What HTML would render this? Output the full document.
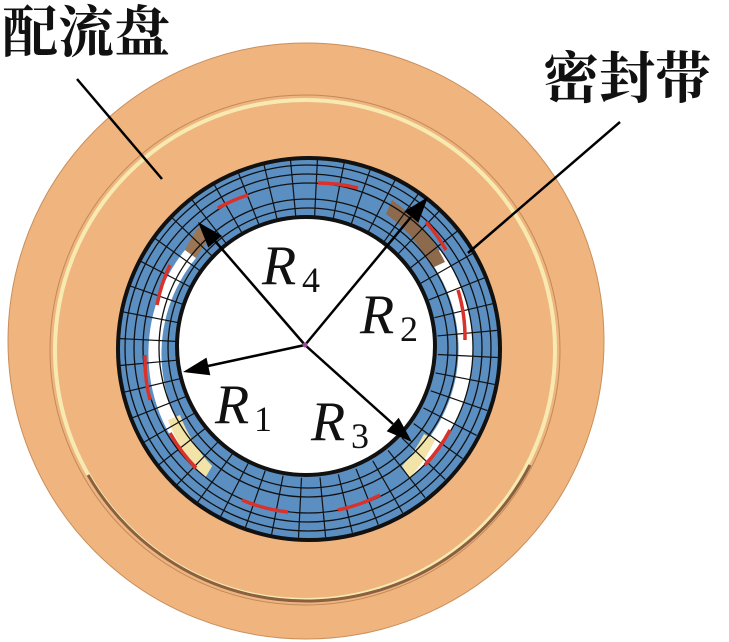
<!DOCTYPE html>
<html><head><meta charset="utf-8"><style>
html,body{margin:0;padding:0;background:#fff;}
svg{display:block;}
.rr{font-family:"Liberation Serif","Times New Roman",serif;font-style:italic;font-size:56px;fill:#111;}
.ss{font-family:"Liberation Serif","Times New Roman",serif;font-size:36px;fill:#111;}
.cj{font-family:"Noto Serif CJK SC","Liberation Serif",serif;font-size:56px;font-weight:bold;fill:#111;}
</style></head><body>
<svg width="729" height="642" viewBox="0 0 729 642" xmlns="http://www.w3.org/2000/svg">
<ellipse cx="306" cy="341" rx="298" ry="298" fill="#f0b47e" stroke="#c98f5c" stroke-width="1"/>
<circle cx="305" cy="350" r="250" fill="none" stroke="#f6eab0" stroke-width="4"/>
<circle cx="305" cy="350" r="255" fill="none" stroke="#c08a5a" stroke-width="1"/>
<path d="M88,475 A252,252 0 0 0 530,465" fill="none" stroke="#8a6040" stroke-width="3"/>
<circle cx="309" cy="349" r="191" fill="#5b8fc2" stroke="#111" stroke-width="4"/>
<g>
<path d="M185,250 A165,165 0 0 0 205,478 L212,466 A150,150 0 0 1 196,258 Z" fill="#ffffff"/>
<path d="M440,250 A165,165 0 0 1 410,478 L402,466 A150,150 0 0 0 428,258 Z" fill="#ffffff"/>
<path d="M200,225 A165,165 0 0 0 185,250 L196,258 A150,150 0 0 1 212,236 Z" fill="#9c7554"/>
<path d="M392,200 A165,165 0 0 1 445,262 L432,268 A150,150 0 0 0 386,214 Z" fill="#8d6a4c"/>
<path d="M168,420 A165,165 0 0 0 205,478 L212,466 A150,150 0 0 1 180,415 Z" fill="#f2e3a8"/>
<path d="M410,478 A165,165 0 0 0 435,440 L424,434 A150,150 0 0 1 402,466 Z" fill="#f2e3a8"/>
</g>
<g fill="none" stroke="#111" stroke-width="1.3">
<circle cx="308" cy="348" r="140"/>
<circle cx="308" cy="348" r="149"/>
<circle cx="308" cy="348" r="165"/>
<circle cx="308" cy="348" r="174"/>
<circle cx="308" cy="348" r="183"/>
</g>
<g stroke="#111" stroke-width="1.2" id="rad"></g>
<g fill="none" stroke="#d9322a" stroke-width="3.5">
<path d="M318,183 A165,165 0 0 1 358,188"/>
<path d="M218,208 A165,165 0 0 1 248,195"/>
<path d="M170,265 A165,165 0 0 0 157,305"/>
<path d="M145,355 A165,165 0 0 0 150,400"/>
<path d="M170,433 A165,165 0 0 0 196,468"/>
<path d="M242,500 A165,165 0 0 0 288,512"/>
<path d="M338,510 A165,165 0 0 0 380,495"/>
<path d="M425,465 A165,165 0 0 0 450,430"/>
<path d="M465,340 A165,165 0 0 0 458,290"/>
<path d="M426,222 A165,165 0 0 1 446,250"/>
</g>
<circle cx="306" cy="346" r="129" fill="#fff" stroke="#111" stroke-width="4"/>
<g stroke="#000" stroke-width="2.5" fill="none">
<line x1="305" y1="345" x2="215" y2="241"/>
<line x1="305" y1="345" x2="411" y2="217"/>
<line x1="305" y1="345" x2="208" y2="366"/>
<line x1="305" y1="345" x2="393" y2="424"/>
</g>
<g fill="#000">
<polygon points="198,222 221.9,235.7 208.3,247.5"/>
<polygon points="428,197 418.3,222.8 404.5,211.2"/>
<polygon points="183,372 206.5,357.6 210.3,375.2"/>
<polygon points="412,442 386.7,431.2 398.7,417.8"/>
</g>
<circle cx="305" cy="345" r="2.5" fill="#9a4a9a"/>
<line x1="77" y1="79" x2="162" y2="179" stroke="#000" stroke-width="2.5"/>
<line x1="620" y1="122" x2="468" y2="253" stroke="#000" stroke-width="2.5"/>
<text class="cj" x="2" y="52">配流盘</text>
<text class="cj" x="543" y="98">密封带</text>
<text class="rr" x="262" y="284">R</text><text class="ss" x="302" y="292">4</text>
<text class="rr" x="360" y="333">R</text><text class="ss" x="400" y="341">2</text>
<text class="rr" x="215" y="423">R</text><text class="ss" x="254" y="431">1</text>
<text class="rr" x="311" y="440">R</text><text class="ss" x="351" y="448">3</text>
</svg>
<script>
var g=document.getElementById('rad'),cx=308,cy=348;
for(var i=0;i<44;i++){var a=i*2*Math.PI/44+0.05;
var l=document.createElementNS('http://www.w3.org/2000/svg','line');
l.setAttribute('x1',cx+130*Math.cos(a));l.setAttribute('y1',cy+130*Math.sin(a));
l.setAttribute('x2',cx+190*Math.cos(a));l.setAttribute('y2',cy+190*Math.sin(a));g.appendChild(l);}
</script>
</body></html>
